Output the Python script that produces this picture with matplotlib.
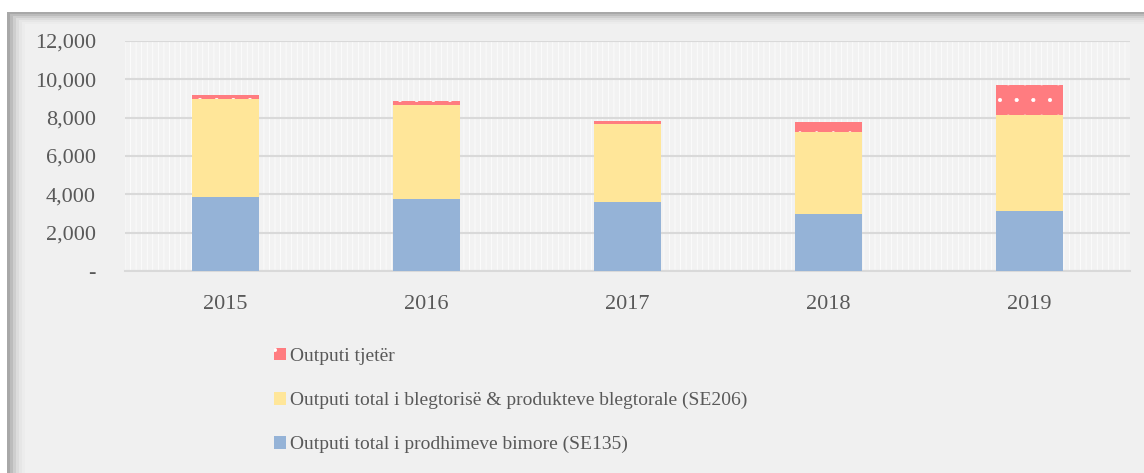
import numpy as np
import matplotlib
matplotlib.use('Agg')
from matplotlib import pyplot as plt
from matplotlib.patches import Rectangle, Patch
from matplotlib.ticker import FuncFormatter

years = ['2015', '2016', '2017', '2018', '2019']
crops = [3870, 3760, 3600, 2990, 3150]          # SE135
livestock = [5120, 4900, 4070, 4260, 4990]      # SE206
other = [170, 190, 160, 510, 1560]

labels = ['Outputi total i prodhimeve bimore (SE135)',
          'Outputi total i blegtorisë & produkteve blegtorale (SE206)',
          'Outputi tjetër']
colors = ['#95b3d7', '#ffe699', '#ff7c80']

plt.rcParams['font.family'] = ['Liberation Serif', 'DejaVu Serif']
plt.rcParams['hatch.linewidth'] = 0.5
text_col = '#595959'

fig = plt.figure(figsize=(11.44, 4.73), dpi=100)
fig.patch.set_facecolor('white')

# panel with a soft shadow on the top and left edges
px, py = 7 / 1144, 12 / 473
shades = ['#a8a8a8', '#bcbcbc', '#cecece', '#dcdcdc', '#e6e6e6', '#ececec']
for i, c in enumerate(shades):
    fig.patches.append(Rectangle((px + i * 3 / 1144, 0), 1, 1 - py - i * 2 / 473,
                                 transform=fig.transFigure, facecolor=c,
                                 edgecolor='none', zorder=-10 + i))
fig.patches.append(Rectangle((px + 18 / 1144, 0), 1, 1 - py - 12 / 473,
                             transform=fig.transFigure, facecolor='#f0f0f0',
                             edgecolor='none', zorder=-3))

ax = fig.add_axes([125 / 1144, 1 - 271 / 473, 1005 / 1144, 230 / 473])
ax.set_facecolor('#f7f7f7')
ax.add_patch(Rectangle((0, 0), 1, 1, transform=ax.transAxes, facecolor='#f2f2f2',
                       edgecolor='white', hatch='|||', linewidth=0, zorder=0))

x = np.arange(len(years))
w = 0.333
crops = np.array(crops)
livestock = np.array(livestock)
other = np.array(other)

ax.bar(x, crops, width=w, color=colors[0], zorder=3)
ax.bar(x, livestock, width=w, bottom=crops, color=colors[1], zorder=3)
ax.bar(x, other, width=w, bottom=crops + livestock, color=colors[2],
       edgecolor='white', linewidth=0, hatch='.', zorder=3)

ax.set_xlim(-0.5, 4.5)
ax.set_ylim(0, 12000)
ax.set_yticks(np.arange(0, 12001, 2000))
ax.yaxis.set_major_formatter(FuncFormatter(lambda v, p: '-' if v == 0 else '{:,.0f}'.format(v)))
ax.set_xticks(x)
ax.set_xticklabels(years)
ax.grid(axis='y', color='#d9d9d9', linewidth=1.5, zorder=1)
ax.set_axisbelow(False)
for s in ['top', 'right', 'left']:
    ax.spines[s].set_visible(False)
ax.spines['bottom'].set_color('#d9d9d9')
ax.spines['bottom'].set_linewidth(1.5)
ax.tick_params(length=0, labelsize=16, colors=text_col)
ax.tick_params(axis='x', pad=17)
ax.tick_params(axis='y', pad=21)

handles = [Patch(facecolor=colors[2], edgecolor='white', linewidth=0, hatch='.'),
           Patch(facecolor=colors[1]),
           Patch(facecolor=colors[0])]
fig.legend(handles, [labels[2], labels[1], labels[0]], loc='upper left',
           bbox_to_anchor=(256 / 1144, 1 - 330 / 473), frameon=False,
           fontsize=14, labelcolor=text_col, handlelength=0.65, handleheight=0.65,
           handletextpad=0.2, labelspacing=1.38)

plt.savefig('out.png', dpi=100, facecolor=fig.get_facecolor())
